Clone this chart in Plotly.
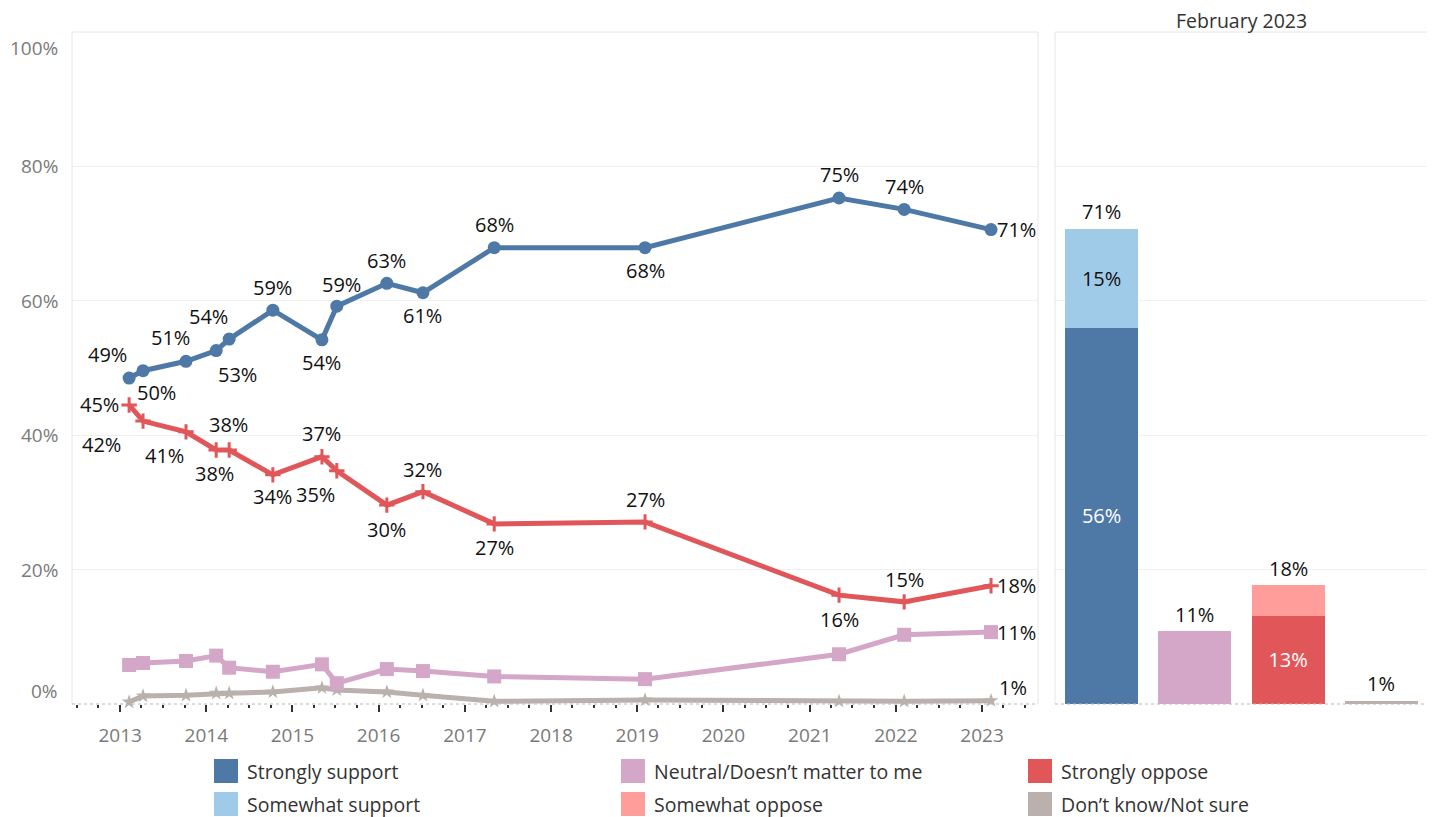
import math
import plotly.graph_objects as go

# ---------------- data ----------------
survey_dates = ["2013-02-08", "2013-04-08", "2013-10-07", "2014-02-12", "2014-04-08",
                "2014-10-10", "2015-05-06", "2015-07-08", "2016-02-05", "2016-07-07",
                "2017-05-05", "2019-02-03", "2021-05-05", "2022-02-05", "2023-02-08"]
strongly_support = [48.5, 49.6, 51.0, 52.6, 54.3, 58.6, 54.2, 59.2, 62.6, 61.2,
                    67.9, 67.9, 75.3, 73.6, 70.6]
strongly_oppose = [44.5, 42.1, 40.5, 37.8, 37.8, 34.1, 36.8, 34.7, 29.6, 31.6,
                   26.8, 27.1, 16.2, 15.2, 17.6]
neutral = [5.8, 6.1, 6.4, 7.2, 5.4, 4.8, 5.9, 3.1, 5.2, 4.9, 4.1, 3.7, 7.4, 10.3, 10.7]
dont_know = [0.3, 1.2, 1.3, 1.6, 1.6, 1.8, 2.4, 2.1, 1.8, 1.3, 0.4, 0.6, 0.4, 0.4, 0.5]

bar_groups = ["Support", "Neutral", "Oppose", "Not sure"]
bar_strong = [56.0, 10.8, 13.1, 0.5]      # strongly support / neutral / strongly oppose / not sure
bar_somewhat = [14.7, 0.0, 4.6, 0.0]      # somewhat support / - / somewhat oppose / -

y_ticks = [0, 20, 40, 60, 80, 100]
legend_labels = ["Strongly support", "Neutral/Doesn\u2019t matter to me", "Strongly oppose",
                 "Somewhat support", "Somewhat oppose", "Don\u2019t know/Not sure"]

# ---------------- style ----------------
C_BLUE, C_LBLUE = "#4e79a7", "#a0cbe8"
C_PINK = "#d4a6c8"
C_RED, C_LRED = "#e15759", "#ff9d9a"
C_GREY = "#bab0ac"
legend_colors = [C_BLUE, C_PINK, C_RED, C_LBLUE, C_LRED, C_GREY]
FONT = "Open Sans"
LBL = dict(family=FONT, size=20, color="#111111")

# label offsets (dx, dy in px, dy up positive)
blue_off = [(-22, 24), (13, -22), (-15, 24), (21, -24), (-21, 23), (0, 23), (0, -23), (5, 22),
            (0, 23), (0, -23), (0, 23), (0, -23), (0, 23), (0, 23), (25, 0)]
red_off = [(-30, 0), (-42, -23), (-21, -24), (-2, -24), (-1, 25), (0, -22), (0, 23), (-21, -24),
           (0, -24), (0, 22), (0, -24), (0, 22), (0, -24), (0, 22), (25, 0)]


def pct(v):
    return f"{int(math.floor(v + 0.5))}%"


OFF = 8                      # page body margin
W, H = 1435 - OFF, 817 - OFF
X_LEFT, X_R1, X_L2, X_RIGHT = 72, 1038, 1055, 1428   # reference pixel positions
Y_TOP, Y_BOT = 32, 704
ML, MR, MT = X_LEFT - OFF, W - (X_RIGHT - OFF), Y_TOP - OFF
MB = H - (Y_BOT - OFF)
PW, PH = W - ML - MR, H - MT - MB
D1 = (X_R1 - X_LEFT) / PW
D2 = (X_L2 - X_LEFT) / PW


def px_x(p):
    return (p - X_LEFT) / PW


def px_y(p):
    return (Y_BOT - p) / PH


fig = go.Figure()

fig.add_trace(go.Scatter(x=survey_dates, y=dont_know, mode="lines+markers",
                         line=dict(color=C_GREY, width=5),
                         marker=dict(symbol="star", size=11, color=C_GREY),
                         xaxis="x", yaxis="y", showlegend=False, cliponaxis=False))
fig.add_trace(go.Scatter(x=survey_dates, y=neutral, mode="lines+markers",
                         line=dict(color=C_PINK, width=5),
                         marker=dict(symbol="square", size=14, color=C_PINK),
                         xaxis="x", yaxis="y", showlegend=False))
fig.add_trace(go.Scatter(x=survey_dates, y=strongly_oppose, mode="lines+markers",
                         line=dict(color=C_RED, width=5),
                         marker=dict(symbol="cross-thin", size=11,
                                     line=dict(color=C_RED, width=3)),
                         xaxis="x", yaxis="y", showlegend=False))
fig.add_trace(go.Scatter(x=survey_dates, y=strongly_support, mode="lines+markers",
                         line=dict(color=C_BLUE, width=5),
                         marker=dict(symbol="circle", size=13, color=C_BLUE),
                         xaxis="x", yaxis="y", showlegend=False))

# bars
strong_text = [pct(v) if s > 0 else "" for v, s in zip(bar_strong, bar_somewhat)]
some_text = [pct(v) if v >= 10 else "" for v in bar_somewhat]
fig.add_trace(go.Bar(x=bar_groups, y=bar_strong, xaxis="x2", yaxis="y2",
                     marker=dict(color=[C_BLUE, C_PINK, C_RED, C_GREY], line=dict(width=0)),
                     text=strong_text, textposition="inside", insidetextanchor="middle",
                     textfont=dict(family=FONT, size=20, color="white"),
                     showlegend=False, hoverinfo="skip"))
fig.add_trace(go.Bar(x=bar_groups, y=bar_somewhat, xaxis="x2", yaxis="y2",
                     marker=dict(color=[C_LBLUE, C_PINK, C_LRED, C_GREY], line=dict(width=0)),
                     text=some_text, textposition="inside", insidetextanchor="middle",
                     textfont=dict(family=FONT, size=20, color="#111111"),
                     showlegend=False, hoverinfo="skip"))

annotations = []
for d, v, (dx, dy) in zip(survey_dates, strongly_support, blue_off):
    annotations.append(dict(x=d, y=v, xref="x", yref="y", text=pct(v), showarrow=False,
                            xshift=dx, yshift=dy, font=LBL))
for d, v, (dx, dy) in zip(survey_dates, strongly_oppose, red_off):
    annotations.append(dict(x=d, y=v, xref="x", yref="y", text=pct(v), showarrow=False,
                            xshift=dx, yshift=dy, font=LBL))
annotations.append(dict(x=survey_dates[-1], y=neutral[-1], xref="x", yref="y",
                        text=pct(neutral[-1]), showarrow=False, xshift=25, yshift=0, font=LBL))
annotations.append(dict(x=survey_dates[-1], y=dont_know[-1], xref="x", yref="y",
                        text=pct(dont_know[-1]), showarrow=False, xshift=22, yshift=13, font=LBL))

for g, a, b in zip(bar_groups, bar_strong, bar_somewhat):
    annotations.append(dict(x=g, y=a + b, xref="x2", yref="y2", text=pct(a + b),
                            showarrow=False, yshift=17, font=LBL))

for t in y_ticks:
    shift = -16 if t == 100 else (13 if t == 0 else 0)
    annotations.append(dict(x=px_x(60), y=t, xref="paper", yref="y", xanchor="right",
                            yanchor="middle", text=f"{t}%", showarrow=False, yshift=shift,
                            font=dict(family=FONT, size=19, color="#7a7a7a")))

annotations.append(dict(x=(D2 + 1) / 2, y=px_y(20), xref="paper", yref="paper",
                        xanchor="center", yanchor="middle", borderpad=0,
                        text="February 2023", showarrow=False,
                        font=dict(family=FONT, size=19.5, color="#333333")))

shapes = []
# panel borders (left, top, right) and dotted baselines
for x0, x1 in [(0, D1), (D2, 1)]:
    for (a0, b0, a1, b1) in [(x0, 0, x0, 1), (x0, 1, x1, 1), (x1, 0, x1, 1)]:
        shapes.append(dict(type="line", xref="paper", yref="paper", x0=a0, y0=b0, x1=a1, y1=b1,
                           line=dict(color="#e6e6e6", width=1)))
    shapes.append(dict(type="line", xref="paper", yref="paper", x0=x0, y0=0, x1=x1, y1=0,
                       line=dict(color="#b8b8b8", width=1, dash="dot")))

# legend
for i, (lab, col) in enumerate(zip(legend_labels, legend_colors)):
    r, c = divmod(i, 3)
    sx = 214 + 407 * c
    sy = 759 + 33 * r
    shapes.append(dict(type="rect", xref="paper", yref="paper",
                       x0=px_x(sx), x1=px_x(sx + 24), y0=px_y(sy + 24), y1=px_y(sy),
                       fillcolor=col, line=dict(width=0)))
    annotations.append(dict(x=px_x(sx + 31), y=px_y(sy + 12), xref="paper", yref="paper",
                            xanchor="left", yanchor="middle", text=lab, showarrow=False,
                            font=dict(family=FONT, size=19.5, color="#333333")))

fig.update_layout(
    width=W, height=H,
    margin=dict(l=ML, r=MR, t=MT, b=MB),
    paper_bgcolor="white", plot_bgcolor="white",
    font=dict(family=FONT),
    barmode="stack", bargap=0.217,
    xaxis=dict(domain=[0, D1], type="date", range=["2012-06-11", "2023-08-26"],
               dtick="M12", tick0="2013-01-01", tickformat="%Y",
               ticks="outside", ticklen=7, tickwidth=2, tickcolor="#333333",
               ticklabelstandoff=7,
               minor=dict(dtick="M3", ticks="outside", ticklen=3, tickwidth=2,
                          tickcolor="#333333", showgrid=False),
               showgrid=False, zeroline=False, showline=False,
               tickfont=dict(family=FONT, size=19, color="#7a7a7a")),
    yaxis=dict(range=[0, 100], tickvals=[20, 40, 60, 80], showticklabels=False,
               gridcolor="#f0f0f0", gridwidth=1, zeroline=False, showline=False),
    xaxis2=dict(domain=[D2, 1], anchor="y2", showticklabels=False, ticks="",
                showgrid=False, zeroline=False, showline=False),
    yaxis2=dict(range=[0, 100], anchor="x2", tickvals=[20, 40, 60, 80], showticklabels=False,
                gridcolor="#f0f0f0", gridwidth=1, zeroline=False, showline=False),
    annotations=annotations, shapes=shapes,
)

fig.write_html("out.html")
